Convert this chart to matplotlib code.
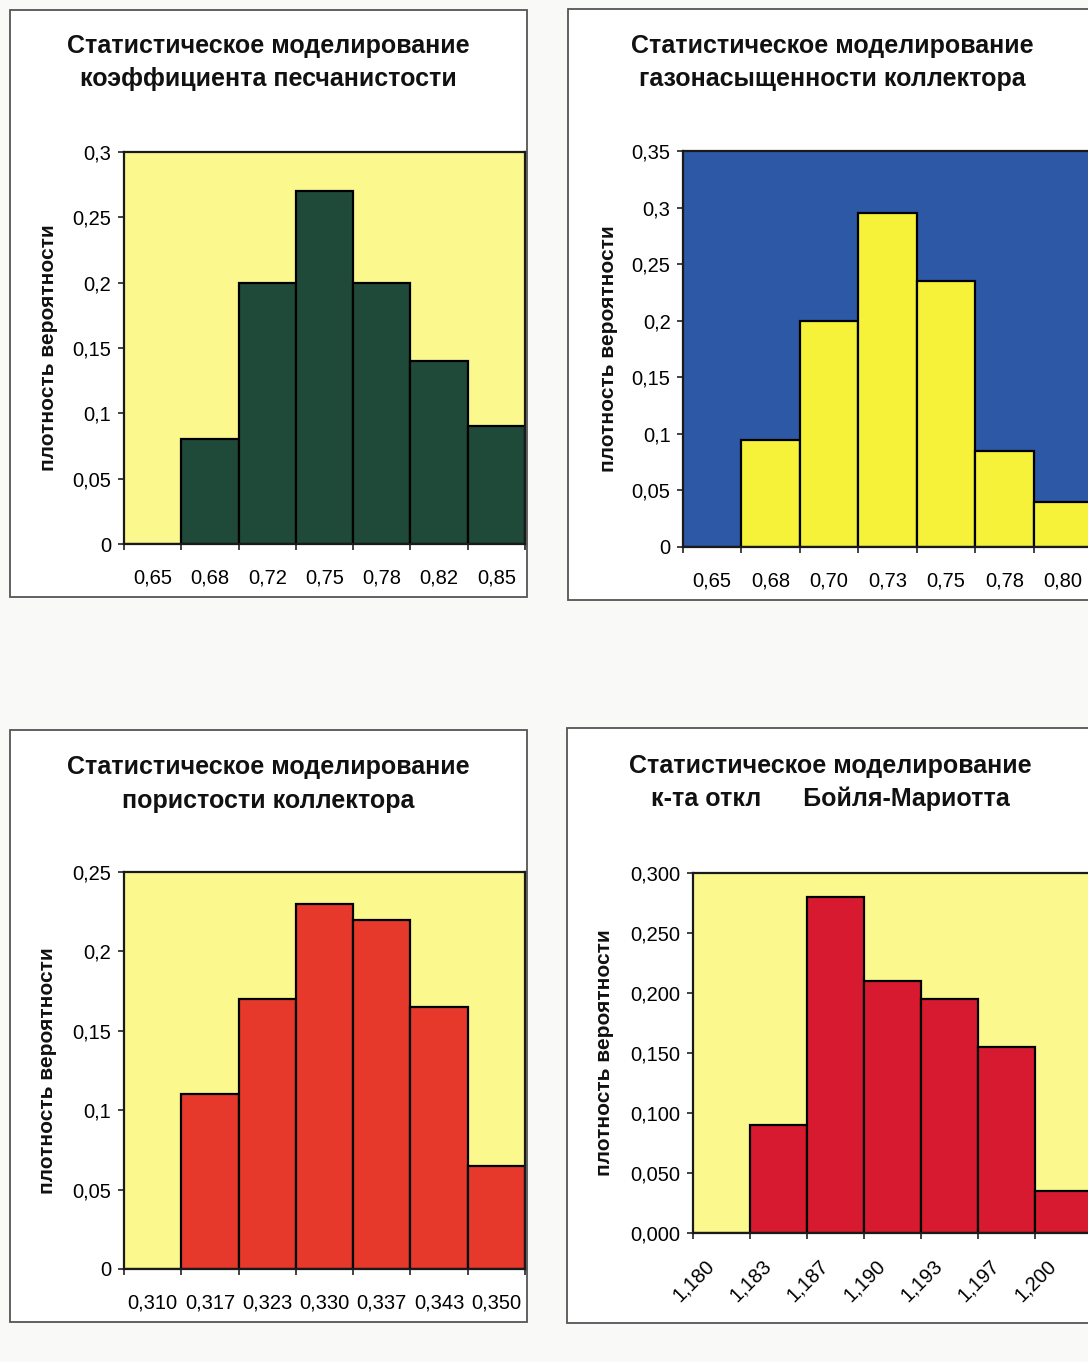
import matplotlib
matplotlib.use('Agg')
import matplotlib.pyplot as plt
import matplotlib.transforms as mtransforms
from matplotlib.patches import Rectangle
from matplotlib.ticker import FuncFormatter, FixedLocator
import numpy as np

plt.rcParams['font.family'] = ['Liberation Sans', 'DejaVu Sans']

W, H = 1088, 1362

# histogram data for the four simulated parameters
sand_labels = ['0,65', '0,68', '0,72', '0,75', '0,78', '0,82', '0,85']
sand_values = [0, 0.08, 0.20, 0.27, 0.20, 0.14, 0.09]

gas_labels = ['0,65', '0,68', '0,70', '0,73', '0,75', '0,78', '0,80']
gas_values = [0, 0.095, 0.20, 0.295, 0.235, 0.085, 0.04]

por_labels = ['0,310', '0,317', '0,323', '0,330', '0,337', '0,343', '0,350']
por_values = [0, 0.11, 0.17, 0.23, 0.22, 0.165, 0.065]

bm_labels = ['1,180', '1,183', '1,187', '1,190', '1,193', '1,197', '1,200']
bm_values = [0, 0.09, 0.28, 0.21, 0.195, 0.155, 0.035]

ylabel = 'плотность вероятности'


def rect(x0, y0, x1, y1):
    return [x0 / W, 1 - y1 / H, (x1 - x0) / W, (y1 - y0) / H]


def comma_fmt(decimals=None):
    def f(v, pos):
        if decimals is None:
            s = ('%.2f' % v).rstrip('0').rstrip('.')
        else:
            s = '%.*f' % (decimals, v)
        return s.replace('.', ',')
    return FuncFormatter(f)


fig = plt.figure(figsize=(W / 100, H / 100), dpi=100, facecolor='#f9f9f7')

panels = [
    dict(frame=(10, 10, 527, 597), plot=(124, 152, 525, 544), ymax=0.3,
         title=('Статистическое моделирование', 'коэффициента песчанистости'),
         ty=(46, 79), tx=268, ylx=49,
         labels=sand_labels, values=sand_values, bg='#fbf98e', bar='#1f4a3a',
         dec=None, rot=False),
    dict(frame=(568, 9, 1100, 600), plot=(683, 151, 1092, 547), ymax=0.35,
         title=('Статистическое моделирование', 'газонасыщенности коллектора'),
         ty=(46, 79), tx=832, ylx=609,
         labels=gas_labels, values=gas_values, bg='#2c58a6', bar='#f6f23a',
         dec=None, rot=False),
    dict(frame=(10, 730, 527, 1322), plot=(124, 872, 525, 1269), ymax=0.25,
         title=('Статистическое моделирование', 'пористости коллектора'),
         ty=(767, 801), tx=268, ylx=48,
         labels=por_labels, values=por_values, bg='#fbf98e', bar='#e6392c',
         dec=None, rot=False),
    dict(frame=(567, 728, 1100, 1323), plot=(693, 873, 1092, 1233), ymax=0.3,
         title=('Статистическое моделирование', 'к-та откл      Бойля-Мариотта'),
         ty=(766, 799), tx=830, ylx=605,
         labels=bm_labels, values=bm_values, bg='#fbf98e', bar='#d81a30',
         dec=3, rot=True),
]

for p in panels:
    fx0, fy0, fx1, fy1 = p['frame']
    fig.patches.append(Rectangle((fx0 / W, 1 - fy1 / H), (fx1 - fx0) / W, (fy1 - fy0) / H,
                                 transform=fig.transFigure, facecolor='white',
                                 edgecolor='#555555', linewidth=1.3, zorder=-5))

    ax = fig.add_axes(rect(*p['plot']))
    ax.set_facecolor(p['bg'])
    n = len(p['values'])
    x = np.arange(n)
    ax.bar(x, p['values'], width=1.0, color=p['bar'], edgecolor='black', linewidth=1.6, zorder=2)
    ax.set_xlim(-0.5, n - 0.5)
    ax.set_ylim(0, p['ymax'])
    ax.set_yticks(np.arange(0, p['ymax'] + 1e-9, 0.05))
    ax.yaxis.set_major_formatter(comma_fmt(p['dec']))

    # category labels sit between boundary tick marks
    ax.set_xticks(x)
    ax.xaxis.set_minor_locator(FixedLocator(np.arange(-0.5, n, 1.0)))
    ax.tick_params(axis='x', which='major', length=0, pad=17.5)
    ax.tick_params(axis='x', which='minor', length=4.5, width=1.2, color='#222222')
    ax.tick_params(axis='y', length=4.5, width=1.2, color='#222222', pad=4.5)
    if p['rot']:
        # slanted labels placed by hand below each category
        ax.set_xticklabels([])
        shift = mtransforms.ScaledTranslation(-17 / 100, -23 / 100, fig.dpi_scale_trans)
        trans = mtransforms.blended_transform_factory(ax.transData, ax.transAxes) + shift
        for i, lab in enumerate(p['labels']):
            ax.text(i, 0, lab, transform=trans, rotation=45, ha='right', va='top',
                    rotation_mode='anchor', fontsize=14.5, color='black', clip_on=False)
    else:
        ax.set_xticklabels(p['labels'], fontsize=14.5, color='black')
    for t in ax.get_yticklabels():
        t.set_fontsize(14.5)
        t.set_color('black')
    for s in ax.spines.values():
        s.set_linewidth(1.6)
        s.set_color('#1a1a1a')

    px0, py0, px1, py1 = p['plot']
    fig.text(p['ylx'] / W, 1 - (py0 + py1) / 2 / H, ylabel, rotation=90,
             ha='center', va='center', fontsize=15, fontweight='bold', color='#111111')
    for line, yy in zip(p['title'], p['ty']):
        fig.text(p['tx'] / W, 1 - yy / H, line, ha='center', va='center',
                 fontsize=18, fontweight='bold', color='#111111')

fig.savefig('out.png', dpi=100, facecolor=fig.get_facecolor())
